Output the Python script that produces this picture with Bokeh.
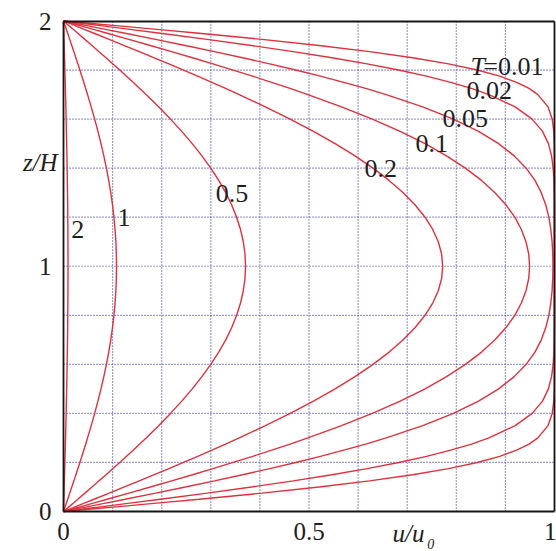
from bokeh.plotting import figure
from bokeh.models import Range1d, FixedTicker, Label, LinearAxis
from bokeh.embed import file_html
from bokeh.resources import INLINE

# Depth positions z/H through the layer (drained at top and bottom)
z_over_h = [0, 0.01, 0.02, 0.035, 0.05, 0.075, 0.1, 0.125, 0.15, 0.175, 0.2, 0.225, 0.25, 0.275, 0.3,
            0.35, 0.4, 0.45, 0.5, 0.55, 0.6, 0.65, 0.7, 0.75, 0.8, 0.85, 0.9, 0.95, 1.0,
            1.05, 1.1, 1.15, 1.2, 1.25, 1.3, 1.35, 1.4, 1.45, 1.5, 1.55, 1.6, 1.65, 1.7,
            1.725, 1.75, 1.775, 1.8, 1.825, 1.85, 1.875, 1.9, 1.925, 1.95, 1.965, 1.98, 1.99, 2.0]

# Time factors of the isochrones
time_factors = ["0.01", "0.02", "0.05", "0.1", "0.2", "0.5", "1", "2"]

# Excess pore pressure ratio u/u0 along z/H for each time factor
u_t001 = [0, 0.0564, 0.1125, 0.1955, 0.2763, 0.4041, 0.5205, 0.6232, 0.7112, 0.7841, 0.8427, 0.8884, 0.9229, 0.9482, 0.9661,
          0.9867, 0.9953, 0.9986, 0.9996, 0.9999, 1.0, 1.0, 1.0, 1.0, 1.0, 1.0, 1.0, 1.0, 1.0,
          1.0, 1.0, 1.0, 1.0, 1.0, 1.0, 1.0, 1.0, 0.9999, 0.9996, 0.9986, 0.9953, 0.9867, 0.9661,
          0.9482, 0.9229, 0.8884, 0.8427, 0.7841, 0.7112, 0.6232, 0.5205, 0.4041, 0.2763, 0.1955, 0.1125, 0.0564, 0]
u_t002 = [0, 0.0399, 0.0796, 0.1389, 0.1974, 0.2924, 0.3830, 0.4680, 0.5467, 0.6184, 0.6827, 0.7394, 0.7887, 0.8309, 0.8664,
          0.9199, 0.9545, 0.9756, 0.9876, 0.9940, 0.9973, 0.9989, 0.9995, 0.9998, 0.9999, 1.0, 1.0, 1.0, 1.0,
          1.0, 1.0, 1.0, 0.9999, 0.9998, 0.9995, 0.9989, 0.9973, 0.9940, 0.9876, 0.9756, 0.9545, 0.9199, 0.8664,
          0.8309, 0.7887, 0.7394, 0.6827, 0.6184, 0.5467, 0.4680, 0.3830, 0.2924, 0.1974, 0.1389, 0.0796, 0.0399, 0]
u_t005 = [0, 0.0252, 0.0504, 0.0881, 0.1256, 0.1875, 0.2482, 0.3074, 0.3647, 0.4200, 0.4729, 0.5232, 0.5708, 0.6155, 0.6572,
          0.7316, 0.7941, 0.8453, 0.8862, 0.9180, 0.9422, 0.9602, 0.9731, 0.9822, 0.9885, 0.9925, 0.9951, 0.9964, 0.9969,
          0.9964, 0.9951, 0.9925, 0.9885, 0.9822, 0.9731, 0.9602, 0.9422, 0.9180, 0.8862, 0.8453, 0.7941, 0.7316, 0.6572,
          0.6155, 0.5708, 0.5232, 0.4729, 0.4200, 0.3647, 0.3074, 0.2482, 0.1875, 0.1256, 0.0881, 0.0504, 0.0252, 0]
u_t01 = [0, 0.0178, 0.0357, 0.0624, 0.0890, 0.1332, 0.1769, 0.2201, 0.2627, 0.3044, 0.3453, 0.3851, 0.4239, 0.4614, 0.4977,
         0.5662, 0.6289, 0.6857, 0.7365, 0.7801, 0.8185, 0.8514, 0.8788, 0.9013, 0.9191, 0.9325, 0.9419, 0.9475, 0.9493,
         0.9475, 0.9419, 0.9325, 0.9191, 0.9013, 0.8788, 0.8514, 0.8185, 0.7801, 0.7365, 0.6857, 0.6289, 0.5662, 0.4977,
         0.4614, 0.4239, 0.3851, 0.3453, 0.3044, 0.2627, 0.2201, 0.1769, 0.1332, 0.0890, 0.0624, 0.0357, 0.0178, 0]
u_t02 = [0, 0.0125, 0.0249, 0.0435, 0.0622, 0.0931, 0.1239, 0.1544, 0.1847, 0.2147, 0.2443, 0.2734, 0.3021, 0.3302, 0.3578,
         0.4111, 0.4617, 0.5091, 0.5532, 0.5937, 0.6304, 0.6632, 0.6918, 0.7162, 0.7363, 0.7520, 0.7633, 0.7701, 0.7723,
         0.7701, 0.7633, 0.7520, 0.7363, 0.7162, 0.6918, 0.6632, 0.6304, 0.5937, 0.5532, 0.5091, 0.4617, 0.4111, 0.3578,
         0.3302, 0.3021, 0.2734, 0.2443, 0.2147, 0.1847, 0.1544, 0.1239, 0.0931, 0.0622, 0.0435, 0.0249, 0.0125, 0]
u_t05 = [0, 0.0058, 0.0116, 0.0204, 0.0291, 0.0436, 0.0580, 0.0723, 0.0866, 0.1006, 0.1146, 0.1283, 0.1419, 0.1552, 0.1683,
         0.1937, 0.2179, 0.2408, 0.2622, 0.2819, 0.3000, 0.3161, 0.3304, 0.3426, 0.3526, 0.3605, 0.3662, 0.3696, 0.3708,
         0.3696, 0.3662, 0.3605, 0.3526, 0.3426, 0.3304, 0.3161, 0.3000, 0.2819, 0.2622, 0.2408, 0.2179, 0.1937, 0.1683,
         0.1552, 0.1419, 0.1283, 0.1146, 0.1006, 0.0866, 0.0723, 0.0580, 0.0436, 0.0291, 0.0204, 0.0116, 0.0058, 0]
u_t1 = [0, 0.0017, 0.0034, 0.0059, 0.0085, 0.0127, 0.0169, 0.0211, 0.0252, 0.0293, 0.0334, 0.0374, 0.0413, 0.0452, 0.0490,
        0.0564, 0.0635, 0.0701, 0.0764, 0.0821, 0.0874, 0.0921, 0.0962, 0.0998, 0.1027, 0.1050, 0.1067, 0.1076, 0.1080,
        0.1076, 0.1067, 0.1050, 0.1027, 0.0998, 0.0962, 0.0921, 0.0874, 0.0821, 0.0764, 0.0701, 0.0635, 0.0564, 0.0490,
        0.0452, 0.0413, 0.0374, 0.0334, 0.0293, 0.0252, 0.0211, 0.0169, 0.0127, 0.0085, 0.0059, 0.0034, 0.0017, 0]
u_t2 = [0, 0.0001, 0.0003, 0.0005, 0.0007, 0.0011, 0.0014, 0.0018, 0.0021, 0.0025, 0.0028, 0.0032, 0.0035, 0.0038, 0.0042,
        0.0048, 0.0054, 0.0059, 0.0065, 0.0070, 0.0074, 0.0078, 0.0082, 0.0085, 0.0087, 0.0089, 0.0090, 0.0091, 0.0092,
        0.0091, 0.0090, 0.0089, 0.0087, 0.0085, 0.0082, 0.0078, 0.0074, 0.0070, 0.0065, 0.0059, 0.0054, 0.0048, 0.0042,
        0.0038, 0.0035, 0.0032, 0.0028, 0.0025, 0.0021, 0.0018, 0.0014, 0.0011, 0.0007, 0.0005, 0.0003, 0.0001, 0]

isochrones = [u_t001, u_t002, u_t005, u_t01, u_t02, u_t05, u_t1, u_t2]

# Axis ticks and grid positions
x_ticks = [0, 0.5, 1]
x_tick_labels = {0: "0", 0.5: "0.5", 1: "1"}
y_ticks = [0, 1, 2]
y_tick_labels = {0: "0", 1: "1", 2: "2"}
grid_u = [0.1, 0.2, 0.3, 0.4, 0.5, 0.6, 0.7, 0.8, 0.9]
grid_z = [0.2, 0.4, 0.6, 0.8, 1.0, 1.2, 1.4, 1.6, 1.8]

SERIF = "Liberation Serif"
RED = "#e0303c"
GRID = "#3c3cae"
INK = "#1e1e1e"
FRAME = "#151515"

# The plotting area fills the page; the unit box (u/u0 0..1, z/H 0..2) sits inside it
# with its own axes, so the titles beside the box stay inside the drawable frame.
W, H = 556, 551
BOX_L, BOX_R, BOX_T, BOX_B = 63, 554, 20.5, 511
sx = (BOX_R - BOX_L) / 1.0
sy = (BOX_B - BOX_T) / 2.0
x_range = Range1d(-BOX_L / sx, (W - BOX_L) / sx)
y_range = Range1d(-(H - BOX_B) / sy, 2 + BOX_T / sy)

p = figure(width=W, height=H, output_backend="svg", toolbar_location=None,
           x_range=x_range, y_range=y_range,
           min_border_left=0, min_border_right=0, min_border_top=0, min_border_bottom=0)
p.background_fill_color = "white"
p.border_fill_color = "white"
p.outline_line_color = None
p.grid.visible = False


def style_axis(ax, ticks, labels, standoff, bounds):
    ax.ticker = FixedTicker(ticks=ticks)
    ax.major_label_overrides = labels
    ax.bounds = bounds
    ax.axis_line_color = FRAME
    ax.axis_line_width = 1.8
    ax.major_tick_line_color = None
    ax.minor_tick_line_color = None
    ax.major_label_text_font = SERIF
    ax.major_label_text_font_size = "25px"
    ax.major_label_text_color = INK
    ax.major_label_standoff = standoff


xa = p.xaxis[0]
xa.fixed_location = 0
style_axis(xa, x_ticks, x_tick_labels, 5, (0, 1))
ya = p.yaxis[0]
ya.fixed_location = 0
style_axis(ya, y_ticks, y_tick_labels, 6, (0, 2))

# Top and right edges of the box
top_axis = LinearAxis(fixed_location=2)
style_axis(top_axis, [], {}, 5, (0, 1))
p.add_layout(top_axis, "above")
right_axis = LinearAxis(fixed_location=1)
style_axis(right_axis, [], {}, 5, (0, 2))
p.add_layout(right_axis, "right")

# Dotted reference grid: every 0.1 in u/u0, every 0.2 in z/H
p.segment(x0=grid_u, y0=[0] * len(grid_u), x1=grid_u, y1=[2] * len(grid_u),
          line_color=GRID, line_width=1.2, line_dash="1 2")
p.segment(x0=[0] * len(grid_z), y0=grid_z, x1=[1] * len(grid_z), y1=grid_z,
          line_color=GRID, line_width=1.2, line_dash="1 2")

for u in isochrones:
    p.line(u, z_over_h, line_color=RED, line_width=1.4)

# Curve labels: (left u/u0, mid z/H)
label_spots = [(0.855, 1.815), (0.821, 1.717), (0.772, 1.603), (0.717, 1.501),
               (0.613, 1.399), (0.310, 1.297), (0.110, 1.200), (0.016, 1.151)]
for i, (name, (lx, ly)) in enumerate(zip(time_factors, label_spots)):
    txt = ("=" + name) if i == 0 else name
    p.add_layout(Label(x=lx, y=ly, text=txt, text_font=SERIF, text_font_size="26px",
                       text_color=INK, text_align="left", text_baseline="middle"))
p.add_layout(Label(x=0.829, y=1.815, text="T", text_font=SERIF, text_font_style="italic",
                   text_font_size="26px", text_color=INK, text_align="left", text_baseline="middle"))

# Axis titles
p.add_layout(Label(x=-0.012, y=1.423, text="z/H", text_font=SERIF, text_font_style="italic",
                   text_font_size="25px", text_color=INK, text_align="right", text_baseline="middle"))
p.add_layout(Label(x=0.670, y=-0.090, text="u/u", text_font=SERIF, text_font_style="italic",
                   text_font_size="25px", text_color=INK, text_align="left", text_baseline="middle"))
p.add_layout(Label(x=0.741, y=-0.132, text="0", text_font=SERIF, text_font_style="italic",
                   text_font_size="14px", text_color=INK, text_align="left", text_baseline="middle"))

open("out.html", "w").write(file_html(p, INLINE))
